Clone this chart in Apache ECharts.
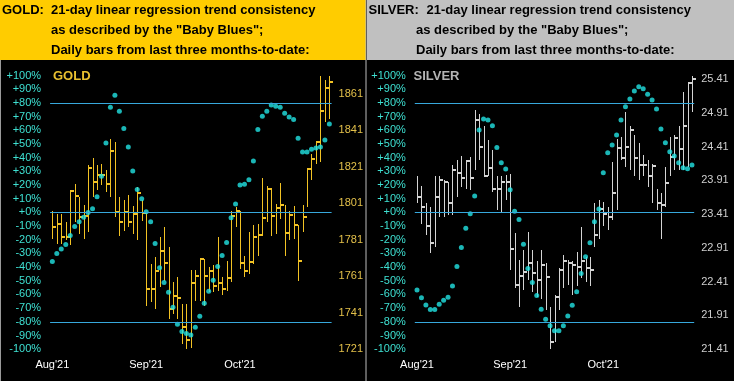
<!DOCTYPE html>
<html><head><meta charset="utf-8">
<script src="https://cdn.jsdelivr.net/npm/echarts/dist/echarts.min.js"></script>
<style>html,body{margin:0;padding:0;background:#000;}#c{width:734px;height:381px;}</style>
</head><body><div id="c"></div>
<script>
// ---- tick labels ----
const monthLabels = ["Aug'21", "Sep'21", "Oct'21"];
const monthLabelIdx = [0, 21, 42];

// ---- GOLD daily bars (high / low / close) ----
const goldHigh = [1797.0,1795.2,1795.2,1790.6,1808.4,1811.7,1804.4,1800.2,1821.8,1826.0,
1821.8,1822.3,1819.4,1836.4,1834.6,1804.4,1802.9,1805.3,1799.7,1809.7,
1802.6,1796.1,1767.7,1771.4,1782.4,1787.9,1776.9,1757.6,1760.8,1745.7,
1745.7,1764.4,1764.4,1770.8,1770.5,1765.9,1767.4,1782.4,1760.4,1769.6,
1797.0,1798.9,1796.7,1772.3,1785.1,1789.3,1789.7,1815.0,1810.2,1809.5,
1800.7,1812.3,1799.8,1797.0,1799.6,1788.8,1799.8,1820.5,1828.2,1834.6,
1870.7,1868.5,1870.9];
const goldLow = [1781.5,1778.7,1778.7,1780.6,1777.9,1790.6,1784.2,1781.5,1785.1,1804.4,
1808.0,1810.8,1807.1,1804.4,1793.4,1783.3,1786.0,1787.9,1784.2,1780.6,
1791.5,1744.8,1746.6,1742.9,1754.9,1758.5,1737.5,1740.2,1737.5,1723.7,
1721.0,1721.5,1747.6,1747.6,1744.8,1752.1,1752.1,1753.1,1750.7,1753.1,
1757.6,1787.9,1765.0,1760.4,1762.2,1767.7,1772.3,1783.3,1790.6,1782.9,
1784.2,1792.5,1772.3,1780.6,1781.5,1758.2,1785.1,1798.9,1813.9,1822.7,
1823.6,1845.6,1847.4];
const goldClose = [1787.9,1789.7,1782.4,1782.4,1807.7,1804.7,1793.4,1793.9,1820.3,1812.7,
1816.4,1816.4,1811.6,1829.5,1796.1,1790.6,1796.1,1790.6,1795.2,1806.6,
1795.6,1754.0,1754.0,1764.0,1774.7,1768.1,1743.0,1750.3,1749.0,1733.3,
1725.9,1757.3,1761.0,1770.5,1761.0,1763.7,1755.8,1757.3,1753.8,1760.0,
1793.9,1797.0,1768.3,1764.1,1769.0,1782.4,1783.7,1792.8,1808.8,1793.9,
1798.5,1800.3,1784.6,1794.7,1789.0,1769.6,1793.2,1819.8,1825.4,1834.3,
1851.7,1864.3,1867.6];
// ---- GOLD "Baby Blues" (% trend consistency) ----
const goldBlues = [-35.9,-30.1,-26.7,-23.5,-17.0,-10.4,-6.8,-3.6,-0.2,2.7,
11.4,26.4,50.7,76.8,85.6,73.9,61.3,47.8,30.3,16.7,
9.9,0.5,-6.8,-22.8,-40.5,-51.2,-58.4,-69.3,-81.7,-87.0,
-88.5,-89.7,-83.9,-75.9,-66.4,-57.7,-49.7,-39.5,-31.5,-22.1,
-3.9,6.1,19.9,20.6,23.8,37.6,60.6,70.3,73.9,78.5,
77.6,76.8,72.5,69.6,67.9,54.1,44.1,44.1,46.1,47.0,
47.8,52.8,64.5];

// ---- SILVER daily bars (high / low / close) ----
const silverHigh = [23.97,23.83,23.57,23.52,23.98,23.98,23.91,23.89,24.14,24.22,
24.27,24.21,24.26,24.95,24.90,24.71,24.51,24.36,23.97,23.97,
23.99,24.00,23.13,22.73,22.88,23.15,22.88,22.71,22.88,22.68,
22.04,22.21,22.61,22.80,22.73,22.71,22.85,23.22,22.78,22.78,
23.57,23.62,23.59,23.52,24.19,24.53,24.56,24.93,24.71,24.58,
24.46,24.29,24.21,24.16,23.79,23.72,24.11,24.56,24.58,24.71,
25.22,25.37,25.46];
const silverLow = [23.57,23.27,23.10,22.83,22.93,23.37,23.37,23.40,23.40,23.67,
23.82,23.79,23.77,24.06,24.21,23.97,23.97,23.74,23.47,23.45,
23.62,22.58,22.31,22.04,22.29,22.43,22.26,22.19,22.16,21.99,
21.42,21.52,21.99,22.31,22.36,22.21,22.34,22.46,22.41,22.34,
22.93,23.05,23.23,23.18,23.32,23.47,24.21,24.11,24.06,23.97,
23.92,23.97,23.82,23.57,23.47,23.05,23.52,23.97,24.06,24.06,
24.06,24.11,24.93];
const silverClose = [23.66,23.51,23.23,22.98,23.67,23.91,23.88,23.57,24.06,24.02,
23.94,24.20,23.94,24.80,24.40,23.98,24.10,23.78,23.79,23.89,
23.88,22.89,22.36,22.50,22.56,22.68,22.54,22.43,22.66,22.48,
21.52,22.19,22.58,22.71,22.68,22.66,22.63,22.71,22.61,22.58,
23.10,23.49,23.42,23.37,23.72,24.39,24.24,24.40,24.66,24.24,
24.14,24.14,23.97,24.12,23.58,23.55,23.87,24.26,24.54,24.37,
24.72,25.36,25.42];
// ---- SILVER "Baby Blues" ----
const silverBlues = [-56.7,-62.4,-67.7,-70.9,-70.9,-67.1,-64.2,-62.0,-53.8,-39.6,
-25.7,-11.7,-1.0,11.9,60.1,68.2,67.5,63.3,47.3,36.3,
31.7,16.6,0.8,-5.3,-23.4,-41.1,-51.3,-60.8,-70.8,-78.1,
-82.9,-86.6,-86.6,-82.9,-75.7,-67.8,-58.1,-44.7,-32.4,-22.2,
-6.8,2.4,29.0,43.6,49.2,56.5,67.5,77.2,82.8,88.7,
91.8,90.4,86.3,82.1,75.5,60.9,50.9,44.3,41.2,36.3,
32.6,31.9,34.6];

// ---- reference levels of the consistency scale ----
const levelLines = [80, 0, -80];

// ---------------- styling ----------------
const BLUE_LINE = '#37a8dc';
const DOT = '#22e3e3';
const PCT_TXT = '#3ee0d2';
const GOLD_BAR = '#f2c224';
const SILVER_BAR = '#d4d4d4';
const FONT = '"Liberation Sans", Arial, sans-serif';

const cats = goldClose.map((_, i) => String(i));

function hlcRender(color) {
  return function (params, api) {
    const i = api.value(0);
    const ph = api.coord([i, api.value(1)]);
    const pl = api.coord([i, api.value(2)]);
    const pc = api.coord([i, api.value(3)]);
    const x = Math.round(ph[0]) + 0.5;
    const yc = Math.round(pc[1]);
    return {
      type: 'group',
      children: [
        { type: 'line', shape: { x1: x, y1: Math.round(ph[1]), x2: x, y2: Math.round(pl[1]) },
          style: { stroke: color, lineWidth: 1 } },
        { type: 'rect', shape: { x: x - 0.5, y: yc - 1, width: 4, height: 2 },
          style: { fill: color } }
      ]
    };
  };
}

function xAxisCfg(gi) {
  return {
    type: 'category', gridIndex: gi, data: cats, boundaryGap: true,
    axisLine: { show: false }, axisTick: { show: false }, splitLine: { show: false },
    axisLabel: {
      interval: 0, color: '#ffffff', fontSize: 11, fontFamily: FONT, margin: 10,
      formatter: function (v, idx) { const k = monthLabelIdx.indexOf(idx); return k >= 0 ? monthLabels[k] : ''; }
    }
  };
}
function pctAxis(gi) {
  return {
    type: 'value', gridIndex: gi, position: 'left', min: -100, max: 100, interval: 10,
    axisLine: { show: false }, axisTick: { show: false }, splitLine: { show: false },
    axisLabel: { color: PCT_TXT, fontSize: 11, fontFamily: FONT, margin: 9,
      formatter: v => (v >= 0 ? '+' : '') + v + '%' }
  };
}
function priceAxis(gi, min, max, interval, color, dec) {
  return {
    type: 'value', gridIndex: gi, position: 'right', min: min, max: max, interval: interval,
    axisLine: { show: false }, axisTick: { show: false }, splitLine: { show: false },
    axisLabel: { color: color, fontSize: 11, fontFamily: FONT, margin: 7, showMaxLabel: false,
      formatter: v => v.toFixed(dec) }
  };
}

function panelSeries(gi, high, low, close, blues, barColor) {
  const hlc = close.map((c, i) => [i, high[i], low[i], c]);
  const dots = blues.map((b, i) => [i, b]);
  return [
    { type: 'line', xAxisIndex: gi, yAxisIndex: gi * 2, data: [], silent: true, z: 1,
      markLine: { silent: true, symbol: ['none', 'none'], label: { show: false },
        lineStyle: { color: BLUE_LINE, width: 1, type: 'solid' },
        data: levelLines.map(v => ({ yAxis: v })) } },
    { type: 'custom', xAxisIndex: gi, yAxisIndex: gi * 2 + 1, data: hlc, z: 2,
      encode: { x: 0, y: [1, 2, 3] }, renderItem: hlcRender(barColor), silent: true, clip: false },
    { type: 'scatter', xAxisIndex: gi, yAxisIndex: gi * 2, data: dots, z: 3,
      symbol: 'circle', symbolSize: 5, itemStyle: { color: DOT }, silent: true }
  ];
}

const titleFont = 'bold 13px ' + FONT;
function txt(text, x, y, fill, font) {
  return { type: 'text', x: x, y: y, z: 20, silent: true,
    style: { text: text, fill: fill, font: font, align: 'left', verticalAlign: 'middle' } };
}

const chart = echarts.init(document.getElementById('c'), null, { renderer: 'canvas' });
chart.setOption({
  backgroundColor: '#000000',
  animation: false,
  grid: [
    { left: 50.1, top: 75.5, width: 281.5, height: 273.7 },
    { left: 414.8, top: 75.5, width: 279.4, height: 273.7 }
  ],
  xAxis: [xAxisCfg(0), xAxisCfg(1)],
  yAxis: [
    pctAxis(0), priceAxis(0, 1721, 1871, 20, '#e3c04a', 0),
    pctAxis(1), priceAxis(1, 21.41, 25.465, 0.5, '#cfcfcf', 2)
  ],
  series: [].concat(
    panelSeries(0, goldHigh, goldLow, goldClose, goldBlues, GOLD_BAR),
    panelSeries(1, silverHigh, silverLow, silverClose, silverBlues, SILVER_BAR)
  ),
  graphic: [
    { type: 'rect', shape: { x: 0, y: 0, width: 366, height: 60 }, style: { fill: '#ffcc00' }, z: 10, silent: true },
    { type: 'rect', shape: { x: 367, y: 0, width: 367, height: 60 }, style: { fill: '#c0c0c0' }, z: 10, silent: true },
    { type: 'line', shape: { x1: 366, y1: 0, x2: 366, y2: 381 }, style: { stroke: '#bdbdbd', lineWidth: 1 }, z: 11, silent: true },
    { type: 'line', shape: { x1: 0.5, y1: 60, x2: 0.5, y2: 381 }, style: { stroke: '#9a9a9a', lineWidth: 1 }, z: 11, silent: true },
    txt('GOLD:', 2, 10.2, '#000', titleFont),
    txt('21-day linear regression trend consistency', 51, 10.2, '#000', titleFont),
    txt('as described by the "Baby Blues";', 51, 30.2, '#000', titleFont),
    txt('Daily bars from last three months-to-date:', 51, 50.2, '#000', titleFont),
    txt('SILVER:', 368.5, 10.2, '#000', titleFont),
    txt('21-day linear regression trend consistency', 426.5, 10.2, '#000', titleFont),
    txt('as described by the "Baby Blues";', 416, 30.2, '#000', titleFont),
    txt('Daily bars from last three months-to-date:', 416, 50.2, '#000', titleFont),
    txt('GOLD', 53, 76.5, '#e8c030', 'bold 13px ' + FONT),
    txt('SILVER', 413.5, 76.5, '#b4b4b4', 'bold 13px ' + FONT)
  ]
});
</script></body></html>
